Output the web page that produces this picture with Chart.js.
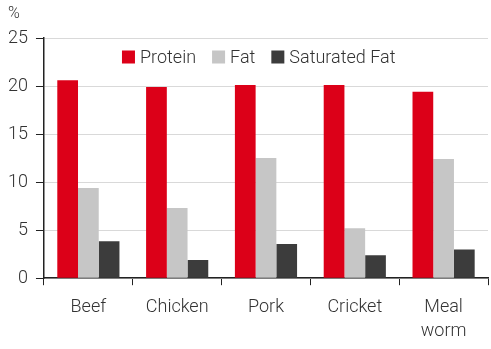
<!DOCTYPE html>
<html>
<head>
<meta charset="utf-8">
<script src="https://cdn.jsdelivr.net/npm/chart.js@4"></script>
<style>
  html, body { margin: 0; padding: 0; background: #fff; }
  #wrap { width: 491px; height: 349px; }
</style>
</head>
<body>
<div id="wrap"><canvas id="chart"></canvas></div>
<script>
const categories = [["Beef"], ["Chicken"], ["Pork"], ["Cricket"], ["Meal", "worm"]];
const protein = [20.6, 19.9, 20.1, 20.1, 19.4];
const fat = [9.4, 7.3, 12.5, 5.2, 12.4];
const saturatedFat = [3.85, 1.9, 3.55, 2.4, 3.0];
const yTicks = [0, 5, 10, 15, 20, 25];
const unitLabel = "%";

const FONT = "Roboto, 'Liberation Sans', sans-serif";
const TEXT = "#333";

// legend drawn inside the plot, in one row under the top gridline,
// plus the unit label above the y axis
const insideLegend = {
  id: "insideLegend",
  afterDatasetsDraw(chart) {
    const { ctx, chartArea } = chart;
    ctx.save();
    ctx.textBaseline = "middle";

    ctx.font = "300 16px " + FONT;
    ctx.fillStyle = TEXT;
    ctx.fillText(unitLabel, 8, 14);

    ctx.font = "300 18px " + FONT;
    let x = chartArea.left + 78;
    const y = chartArea.top + 19;
    chart.data.datasets.forEach((ds) => {
      ctx.fillStyle = ds.backgroundColor;
      ctx.fillRect(x, y - 6.5, 13, 13);
      x += 18;
      ctx.fillStyle = TEXT;
      ctx.fillText(ds.label, x, y + 1);
      x += ctx.measureText(ds.label).width + 16;
    });
    ctx.restore();
  },
};

new Chart(document.getElementById("chart"), {
  type: "bar",
  data: {
    labels: categories,
    datasets: [
      { label: "Protein", data: protein, backgroundColor: "#dc0018" },
      { label: "Fat", data: fat, backgroundColor: "#c6c6c6" },
      { label: "Saturated Fat", data: saturatedFat, backgroundColor: "#3c3c3c" },
    ],
  },
  options: {
    responsive: true,
    maintainAspectRatio: false,
    animation: false,
    categoryPercentage: 0.7,
    barPercentage: 1.0,
    layout: { padding: { left: 0, right: 3, top: 38, bottom: -5 } },
    plugins: {
      legend: { display: false },
      tooltip: { enabled: false },
    },
    scales: {
      x: {
        offset: true,
        grid: { offset: true, drawOnChartArea: false, drawTicks: true, tickLength: 7, color: "#222" },
        border: { color: "#222", width: 1.5 },
        ticks: { color: TEXT, font: { family: FONT, size: 18, weight: 300, lineHeight: 1.3 }, padding: 11 },
      },
      y: {
        min: 0,
        max: 25,
        afterBuildTicks: (axis) => { axis.ticks = yTicks.map((v) => ({ value: v })); },
        grid: { color: "#d9d9d9", tickColor: "#222", tickLength: 8 },
        border: { color: "#222", width: 1.5 },
        ticks: { color: TEXT, font: { family: FONT, size: 18, weight: 300 }, padding: 8 },
      },
    },
  },
  plugins: [insideLegend],
});
</script>
</body>
</html>
